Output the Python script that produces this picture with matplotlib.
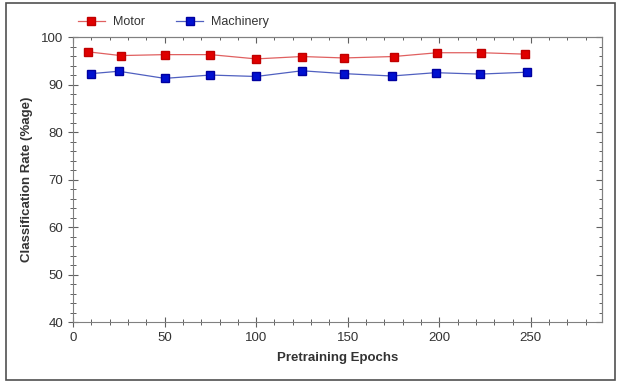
import matplotlib
matplotlib.use('Agg')
import matplotlib.pyplot as plt
from matplotlib.ticker import MultipleLocator
from matplotlib.patches import Rectangle

plt.rcParams['font.family'] = ['Liberation Sans', 'DejaVu Sans']

# data
motor_epochs = [8, 26, 50, 75, 100, 125, 148, 175, 199, 223, 247]
motor = [96.9, 96.1, 96.3, 96.3, 95.4, 95.9, 95.6, 95.9, 96.7, 96.7, 96.4]
mach_epochs = [10, 25, 50, 75, 100, 125, 148, 174, 198, 222, 248]
machinery = [92.3, 92.8, 91.3, 92.0, 91.7, 92.9, 92.3, 91.8, 92.5, 92.2, 92.6]

fig = plt.figure(figsize=(6.19, 3.82), dpi=100)
ax = fig.add_axes([0.118, 0.157, 0.855, 0.746])

ax.plot(motor_epochs, motor, color='#e06060', lw=0.9, marker='s', ms=5.5,
        mfc='#e00000', mec='#c00000', label='Motor')
ax.plot(mach_epochs, machinery, color='#5060c0', lw=0.9, marker='s', ms=5.5,
        mfc='#0010d0', mec='#0000a0', label='Machinery')

ax.set_xlim(0, 289)
ax.set_ylim(40, 100)
ax.xaxis.set_major_locator(MultipleLocator(50))
ax.xaxis.set_minor_locator(MultipleLocator(10))
ax.yaxis.set_major_locator(MultipleLocator(10))
ax.yaxis.set_minor_locator(MultipleLocator(2))

for s in ax.spines.values():
    s.set_color('#808080')
    s.set_linewidth(0.8)
ax.tick_params(which='both', direction='inout', colors='#606060',
               labelcolor='#333333', labelsize=9.5)
ax.tick_params(which='major', length=7, width=0.8)
ax.tick_params(which='minor', length=4, width=0.7)

# inward ticks on top and right
top = ax.secondary_xaxis('top')
right = ax.secondary_yaxis('right')
top.xaxis.set_major_locator(MultipleLocator(50))
top.xaxis.set_minor_locator(MultipleLocator(10))
right.yaxis.set_major_locator(MultipleLocator(10))
right.yaxis.set_minor_locator(MultipleLocator(2))
for sec in (top, right):
    sec.tick_params(which='both', direction='in', colors='#606060',
                    labelleft=False, labelright=False, labeltop=False,
                    labelbottom=False)
    sec.tick_params(which='major', length=4, width=0.8)
    sec.tick_params(which='minor', length=2.5, width=0.7)
    for s in sec.spines.values():
        s.set_color('#808080')
        s.set_linewidth(0.8)

ax.set_xlabel('Pretraining Epochs', fontsize=9.5, fontweight='bold',
              color='#333333', labelpad=6)
ax.set_ylabel('Classification Rate (%age)', fontsize=9.5, fontweight='bold',
              color='#333333', labelpad=6)

ax.legend(loc='lower left', bbox_to_anchor=(-0.005, 1.005), ncol=2, frameon=False,
          fontsize=9, handlelength=2.15, handletextpad=0.65, columnspacing=2.5,
          borderaxespad=0.2, labelcolor='#333333')

fig.patches.append(Rectangle((0.009, 0.006), 0.984, 0.986, transform=fig.transFigure,
                             fill=False, ec='#505050', lw=1.2))

fig.savefig('out.png', dpi=100)
